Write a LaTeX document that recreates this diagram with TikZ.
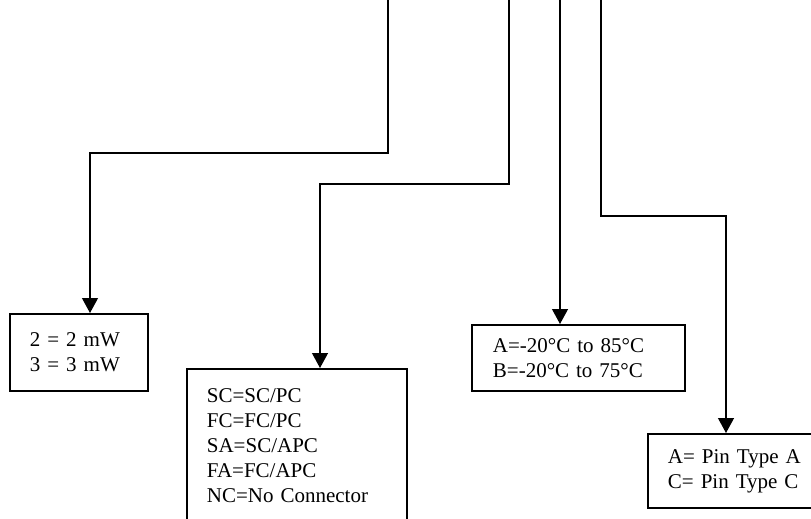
\documentclass[tikz,border=0pt]{standalone}
\usepackage{fontspec}
\setmainfont{Liberation Serif}
\usepackage{tikz}
\usetikzlibrary{arrows.meta,positioning}

\begin{document}
\begin{tikzpicture}[x=1pt, y=-1pt,
    box/.style={draw, line width=1.8pt, anchor=north west, align=left,
      inner xsep=20pt, font=\fontsize{21}{25}\selectfont},
    conn/.style={line width=1.2pt, -{Triangle[width=16pt,length=15pt]}}]
    \useasboundingbox (0,0) rectangle (811,519);
    \clip (0,0) rectangle (811,519);
    % option boxes
    \node[box, text width=98pt, minimum height=77pt] (power) at (9,313) {2 = 2 mW\\3 = 3 mW};
    \node[box, text width=180pt, minimum height=154pt] (conn) at (186,368) {SC=SC/PC\\FC=FC/PC\\SA=SC/APC\\FA=FC/APC\\NC=No Connector};
    \node[box, text width=171pt, minimum height=66pt, inner xsep=21pt] (temp) at (471,324) {A=-20°C to 85°C\\B=-20°C to 75°C};
    \node[box, text width=170pt, minimum height=74pt] (pin) at (647,433) {A= Pin Type A\\C= Pin Type C};
    % lines coming from above
    \coordinate (t1) at (388,0);
    \coordinate (t2) at (509,0);
    \coordinate (t3) at (560,0);
    \coordinate (t4) at (601,0);
    \coordinate (j1) at (90,153);
    \coordinate (j2) at (320,184);
    \coordinate (j4) at (726,216);
    \draw[conn] (t1) |- (j1) -- (j1 |- power.north);
    \draw[conn] (t2) |- (j2) -- (j2 |- conn.north);
    \draw[conn] (t3) -- (t3 |- temp.north);
    \draw[conn] (t4) |- (j4) -- (j4 |- pin.north);
\end{tikzpicture}
\end{document}
